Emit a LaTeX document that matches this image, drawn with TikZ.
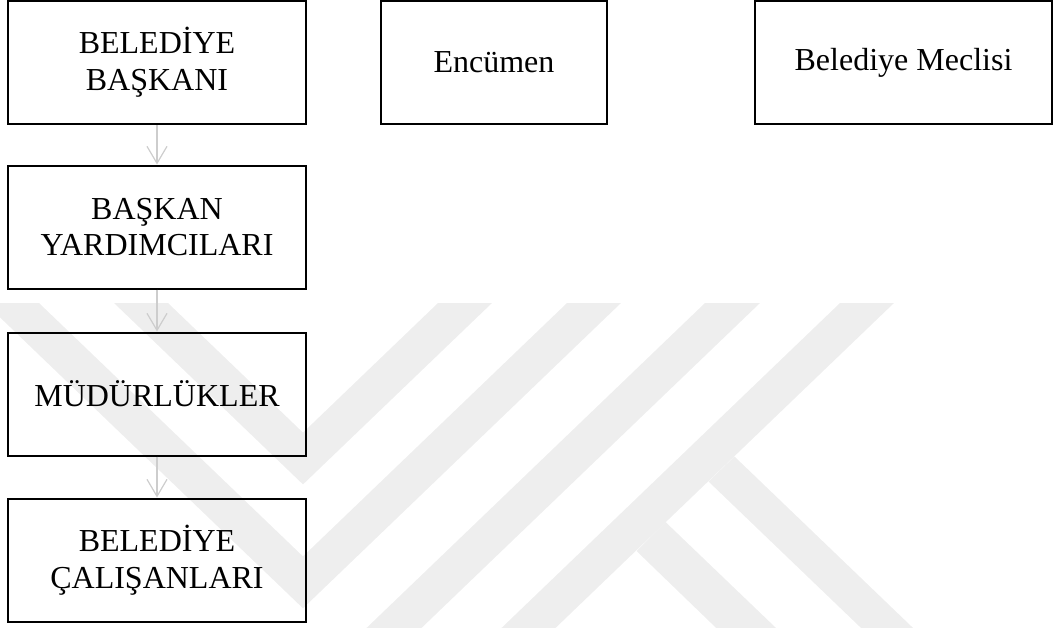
\documentclass[tikz,border=0pt]{standalone}
\usepackage{fontspec}
\setmainfont{Liberation Serif}
\usetikzlibrary{arrows.meta}
\definecolor{wm}{RGB}{238,238,238}
\definecolor{arrgray}{RGB}{205,205,205}
\tikzset{
  box/.style={draw=black, line width=2pt, rectangle, inner sep=0pt,
    minimum height=123pt, align=center,
    font=\fontsize{32}{36.8}\selectfont},
  arr/.style={draw=arrgray, line width=1.2pt,
    -{Straight Barb[length=17pt,width=20pt]}},
  wmfill/.style={fill=wm, draw=none}
}
\begin{document}
\begin{tikzpicture}[x=1pt,y=-1pt]
\useasboundingbox (0,0) rectangle (1054,627);
% watermark
\begin{scope}
\clip (0,0) rectangle (1054,627);
% outer V
\fill[wmfill] (-15,303) -- (303,608.3) -- (621,303) -- (567,303) -- (303,556.4) -- (39,303) -- cycle;
% inner V
\fill[wmfill] (114,303) -- (303,484.4) -- (492,303) -- (438,303) -- (303,432.6) -- (168,303) -- cycle;
% C stripe
\fill[wmfill] (705,303) -- (760,303) -- (400,648.6) -- (345,648.6) -- cycle;
% D stripe
\fill[wmfill] (840,303) -- (894,303) -- (534,648.6) -- (480,648.6) -- cycle;
% E arm
\fill[wmfill] (734.5,456.5) -- (936,650) -- (884,650) -- (708.5,481.5) -- cycle;
% F arm
\fill[wmfill] (665.5,522) -- (800,651) -- (740,651) -- (636.5,551) -- cycle;
\end{scope}
% boxes
\node[box, minimum width=298pt] (bb) at (157,62.5) {BELEDİYE\\BAŞKANI};
\node[box, minimum width=226pt] (enc) at (494,62.5) {Encümen};
\node[box, minimum width=297pt] (mec) at (903.5,62.5) {Belediye Meclisi};
\node[box, minimum width=298pt] (by) at (157,227) {BAŞKAN\\YARDIMCILARI};
\node[box, minimum width=298pt] (md) at (157,394) {MÜDÜRLÜKLER};
\node[box, minimum width=298pt] (bc) at (157,560) {BELEDİYE\\ÇALIŞANLARI};
% arrows
\draw[arr] (bb.south) -- (by.north);
\draw[arr] (by.south) -- (md.north);
\draw[arr] (md.south) -- (bc.north);
\end{tikzpicture}
\end{document}
